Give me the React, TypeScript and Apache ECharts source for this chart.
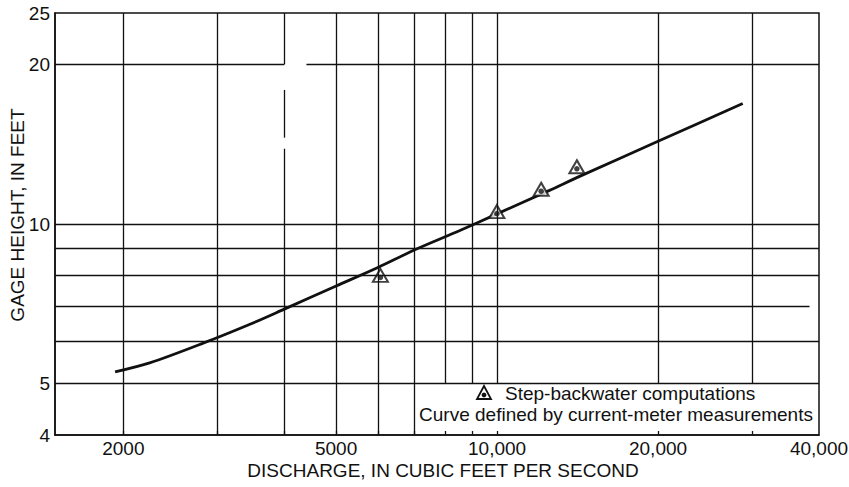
import { useEffect, useRef } from 'react';
import * as echarts from 'echarts';

// Rating curve (defined by current-meter measurements)
const curveDischarge = [1930, 2240, 2820, 3450, 4000, 5000, 6000, 7000, 8520, 10000, 12500, 14300, 20000, 28800];
const curveGageHeight = [5.26, 5.47, 5.96, 6.47, 6.91, 7.64, 8.29, 8.93, 9.72, 10.45, 11.56, 12.31, 14.32, 16.87];

// Step-backwater computations
const stepDischarge = [6050, 9990, 12090, 14100];
const stepGageHeight = [7.93, 10.46, 11.53, 12.71];

// Axis ticks / labels
const xTickLabels = [2000, 5000, 10000, 20000, 40000];
const yTickLabels = [4, 5, 10, 20, 25];
const xGridValues = [2000, 3000, 4000, 5000, 6000, 7000, 8000, 9000, 10000, 20000, 30000];
const yGridValues = [5, 6, 7, 8, 9, 10, 20];

const X_MIN = 1490;
const X_MAX = 40000;
const Y_MIN = 4;
const Y_MAX = 25;

const FONT = "'Liberation Sans', Arial, Helvetica, sans-serif";
const INK = '#111';

export default function App() {
  const ref = useRef<HTMLDivElement>(null);

  useEffect(() => {
    if (!ref.current) return;
    const chart = echarts.init(ref.current, undefined, { renderer: 'svg' });

    const seg = (a: number[], b: number[]) => [{ coord: a }, { coord: b }];
    const gridSegments: any[] = [];
    xGridValues.forEach((x) => {
      if (x === 4000) {
        gridSegments.push(seg([x, 20], [x, Y_MAX]));
        gridSegments.push(seg([x, 14.55], [x, 17.9]));
        gridSegments.push(seg([x, Y_MIN], [x, 13.87]));
      } else {
        gridSegments.push(seg([x, x >= 8000 ? 5 : Y_MIN], [x, Y_MAX]));
      }
    });
    yGridValues.forEach((y) => {
      if (y === 20) {
        gridSegments.push(seg([X_MIN, y], [4000, y]));
        gridSegments.push(seg([4400, y], [X_MAX, y]));
      } else if (y === 7) {
        gridSegments.push(seg([X_MIN, y], [38400, y]));
      } else {
        gridSegments.push(seg([X_MIN, y], [X_MAX, y]));
      }
    });

    const fmt = (v: number) => (v >= 10000 ? v.toLocaleString('en-US') : String(v));

    chart.setOption({
      animation: false,
      backgroundColor: '#fff',
      textStyle: { fontFamily: FONT, color: INK },
      grid: {
        left: 55,
        right: 30,
        top: 13,
        bottom: 52,
        containLabel: false,
        outerBoundsMode: 'none',
        show: true,
        borderColor: INK,
        borderWidth: 1.5,
        backgroundColor: 'transparent',
      },
      xAxis: {
        type: 'log',
        logBase: 10,
        min: X_MIN,
        max: X_MAX,
        name: 'DISCHARGE, IN CUBIC FEET PER SECOND',
        nameLocation: 'middle',
        nameGap: 26,
        nameMoveOverlap: false,
        nameTextStyle: { fontSize: 19, color: INK, fontFamily: FONT, padding: [0, 0, 0, 12] },
        axisLine: { show: true, lineStyle: { color: INK, width: 1.5 } },
        axisTick: { show: true, inside: true, length: 4, customValues: xGridValues, lineStyle: { color: INK, width: 1.3 } },
        axisLabel: {
          customValues: xTickLabels,
          formatter: (v: number) => fmt(v),
          fontSize: 19,
          color: INK,
          fontFamily: FONT,
          margin: 4,
        },
        splitLine: { show: false },
        minorSplitLine: { show: false },
      },
      yAxis: {
        type: 'log',
        logBase: 10,
        min: Y_MIN,
        max: Y_MAX,
        name: 'GAGE HEIGHT, IN FEET',
        nameLocation: 'middle',
        nameGap: 28,
        nameMoveOverlap: false,
        nameTextStyle: { fontSize: 19, color: INK, fontFamily: FONT, padding: [0, 0, 0, 18] },
        axisLine: { show: true, lineStyle: { color: INK, width: 1.5 } },
        axisTick: { show: false },
        axisLabel: {
          customValues: yTickLabels,
          formatter: (v: number) => String(v),
          fontSize: 19,
          color: INK,
          fontFamily: FONT,
          margin: 5,
        },
        splitLine: { show: false },
      },
      series: [
        {
          name: 'grid',
          type: 'line',
          data: [],
          silent: true,
          z: 1,
          markLine: {
            silent: true,
            symbol: ['none', 'none'],
            label: { show: false },
            emphasis: { disabled: true },
            lineStyle: { color: INK, width: 1.3, type: 'solid' },
            data: gridSegments,
          },
        },
        {
          name: 'Curve defined by current-meter measurements',
          type: 'line',
          data: curveDischarge.map((x, i) => [x, curveGageHeight[i]]),
          showSymbol: false,
          smooth: 0.3,
          z: 3,
          lineStyle: { color: INK, width: 2.8 },
        },
        {
          name: 'Step-backwater computations',
          type: 'scatter',
          data: stepDischarge.map((x, i) => [x, stepGageHeight[i]]),
          symbol: 'triangle',
          symbolSize: [15, 13],
          symbolOffset: [0, -2],
          z: 4,
          itemStyle: { color: '#fff', borderColor: INK, borderWidth: 2 },
        },
        {
          name: 'Step-backwater dot',
          type: 'scatter',
          data: stepDischarge.map((x, i) => [x, stepGageHeight[i]]),
          symbol: 'circle',
          symbolSize: 5.5,
          z: 5,
          itemStyle: { color: INK },
        },
      ],
      graphic: [
        {
          type: 'group',
          children: [
            {
              type: 'polygon',
              shape: { points: [[484, 386], [477, 399], [491, 399]] },
              style: { fill: '#fff', stroke: INK, lineWidth: 1.8 },
            },
            { type: 'circle', shape: { cx: 484, cy: 395, r: 2.4 }, style: { fill: INK } },
            {
              type: 'text',
              x: 505,
              y: 393,
              style: {
                text: 'Step-backwater computations',
                fontSize: 19,
                fontFamily: FONT,
                fill: INK,
                verticalAlign: 'middle',
                align: 'left',
              },
            },
            {
              type: 'text',
              x: 616,
              y: 414,
              style: {
                text: 'Curve defined by current-meter measurements',
                fontSize: 19,
                fontFamily: FONT,
                fill: INK,
                verticalAlign: 'middle',
                align: 'center',
              },
            },
          ],
        },
      ],
    });

    return () => chart.dispose();
  }, []);

  return (
    <div
      ref={ref}
      style={{ position: 'fixed', left: 0, top: 0, width: 849, height: 487, background: '#fff' }}
    />
  );
}
